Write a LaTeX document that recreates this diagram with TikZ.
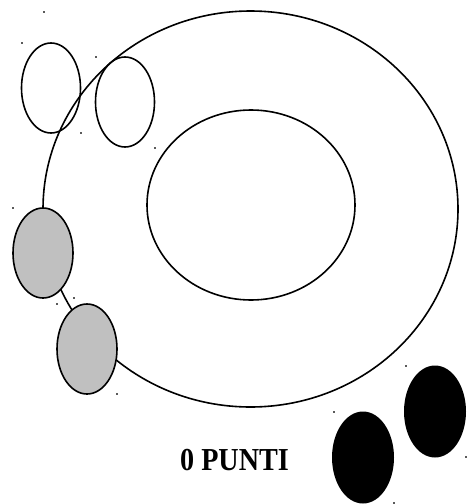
\documentclass[tikz,border=0pt]{standalone}
\usepackage{fontspec}
\setmainfont{Liberation Serif}
\begin{document}
\begin{tikzpicture}[x=1pt,y=-1pt,
  ring/.style={draw=black,line width=1.6pt},
  grayball/.style={draw=black,line width=1.6pt,fill={rgb,255:red,192;green,192;blue,192}},
  blackball/.style={fill=black},
  speck/.style={fill={rgb,255:red,90;green,90;blue,90}}]
\useasboundingbox (0,0) rectangle (472,504);
% specks
\foreach \p in {(44,12),(22,43),(96,57),(81,133),(155,148),(13,208),(74,298),(57,304),(117,394),(406,366),(466,457),(334,412),(394,503)}
  \fill[speck] \p ++(-0.6,-0.6) rectangle ++(1.2,1.2);
% outer and inner ellipses
\draw[ring] (250.5,209) ellipse [x radius=207.5, y radius=198];
\draw[ring] (251,205) ellipse [x radius=104, y radius=95];
% empty ellipses
\draw[ring] (51,88) ellipse [x radius=29.5, y radius=45];
\draw[ring] (125,102) ellipse [x radius=29.5, y radius=45];
% gray ellipses
\draw[grayball] (43,253) ellipse [x radius=30, y radius=45];
\draw[grayball] (87,349) ellipse [x radius=30, y radius=45];
% black ellipses
\fill[blackball] (435,411.5) ellipse [x radius=31, y radius=46];
\fill[blackball] (363,457.5) ellipse [x radius=31, y radius=46];
% label
\node[font=\bfseries\fontsize{32}{36}\selectfont, xscale=0.88, inner sep=0] (label) at (234.5,460) {0 PUNTI};
\end{tikzpicture}
\end{document}
